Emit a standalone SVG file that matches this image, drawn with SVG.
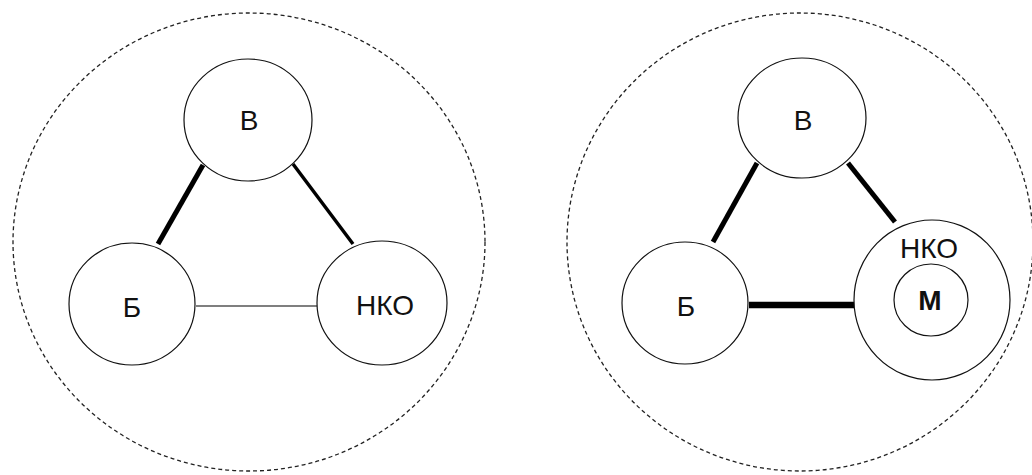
<svg xmlns="http://www.w3.org/2000/svg" width="1032" height="475" viewBox="0 0 1032 475">
<style>
.bg{fill:#fff}
.outer{fill:none;stroke:#222;stroke-width:1.3;stroke-dasharray:4 3}
.node{fill:#fff;stroke:#111;stroke-width:1.2}
.t{font-family:"Liberation Sans",Arial,sans-serif;font-size:28px;fill:#111;text-anchor:middle;dominant-baseline:central}
.b{font-weight:bold}
.e{stroke:#000;fill:none}
</style>
<rect class="bg" width="1032" height="475"/>
<g id="left-boundary"><ellipse class="outer" cx="249" cy="242" rx="236" ry="229"/></g>
<g id="right-boundary"><ellipse class="outer" cx="800" cy="242" rx="233" ry="229"/></g>
<g id="connectors">
<line class="e" x1="203" y1="165" x2="158" y2="244" stroke-width="5"/>
<line class="e" x1="293" y1="164" x2="353" y2="244" stroke-width="3.5"/>
<line class="e" x1="196" y1="306" x2="317" y2="306" stroke-width="1.2"/>
<line class="e" x1="757" y1="163" x2="713" y2="242" stroke-width="5"/>
<line class="e" x1="848" y1="163" x2="895" y2="222" stroke-width="5"/>
<line class="e" x1="749" y1="305" x2="854" y2="305" stroke-width="6.5"/>
</g>
<g id="L-V"><ellipse class="node" cx="248" cy="120" rx="64" ry="61"/><text class="t" x="249" y="120">В</text></g>
<g id="L-B"><ellipse class="node" cx="132" cy="304" rx="63" ry="61"/><text class="t" x="132" y="307">Б</text></g>
<g id="L-NKO"><ellipse class="node" cx="382" cy="303" rx="65" ry="62"/><text class="t" x="385" y="305">НКО</text></g>
<g id="R-V"><ellipse class="node" cx="802" cy="118" rx="64" ry="60"/><text class="t" x="803" y="120">В</text></g>
<g id="R-B"><ellipse class="node" cx="685" cy="303" rx="63" ry="61"/><text class="t" x="686" y="306">Б</text></g>
<g id="R-NKO"><ellipse class="node" cx="932" cy="300" rx="78" ry="80"/><text class="t" x="929" y="248">НКО</text>
<g id="R-M"><ellipse class="node" cx="931" cy="300" rx="37" ry="36"/><text class="t b" x="930" y="300">М</text></g></g>
</svg>
